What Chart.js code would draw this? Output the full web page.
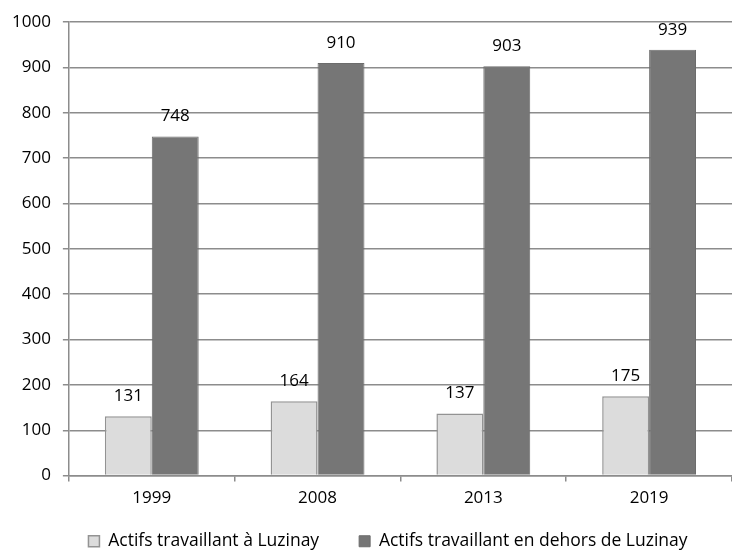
<!DOCTYPE html>
<html>
<head>
<meta charset="utf-8">
<script src="https://cdn.jsdelivr.net/npm/chart.js@4"></script>
<style>
    body { margin: 0; background: #fff; }
</style>
</head>
<body>
<canvas id="chart" width="732" height="551"></canvas>
<script>
// DATA
let years = ["1999", "2008", "2013", "2019"];
let inside = [131, 164, 137, 175];
let outside = [748, 910, 903, 939];
let yTicks = [0, 100, 200, 300, 400, 500, 600, 700, 800, 900, 1000];

let font = "'Open Sans', sans-serif";

// value labels above bars
let barLabels = {
    id: "barLabels",
    afterDatasetsDraw(chart) {
        let ctx = chart.ctx;
        ctx.save();
        ctx.font = "17px " + font;
        ctx.fillStyle = "#000";
        ctx.textAlign = "center";
        ctx.textBaseline = "middle";
        chart.data.datasets.forEach((ds, i) => {
            chart.getDatasetMeta(i).data.forEach((bar, j) => {
                ctx.fillText(ds.data[j], bar.x, bar.y - 20);
            });
        });
        ctx.restore();
    }
};

// legend: keep it short in the layout, then move it where excel had it
let legendTweak = {
    id: "legendTweak",
    beforeLayout(chart) {
        let lg = chart.legend;
        if (lg && !lg._patched) {
            let fit = lg.fit.bind(lg);
            lg.fit = function () { fit(); this.height = 37; };
            lg._patched = true;
        }
    },
    afterLayout(chart) {
        let lg = chart.legend;
        lg.top = 543 - 10.5 - lg.options.labels.padding;
        lg.bottom = chart.height;
        lg.left += 22;
        lg.right += 22;
    }
};

function loadChart() {
    let ctx = document.getElementById("chart");

    new Chart(ctx, {
        type: "bar",
        data: {
            labels: years,
            datasets: [
                {
                    label: "Actifs travaillant à Luzinay",
                    data: inside,
                    backgroundColor: "#dcdcdc",
                    borderColor: "#939393",
                    borderWidth: 1.5
                },
                {
                    label: "Actifs travaillant en dehors de Luzinay",
                    data: outside,
                    backgroundColor: "#767676",
                    borderColor: "#6c6c6c",
                    borderWidth: 1
                }
            ]
        },
        options: {
            responsive: false,
            devicePixelRatio: 1,
            animation: false,
            categoryPercentage: 0.566,
            barPercentage: 1,
            layout: { padding: { top: 20, right: 0, left: 0, bottom: 0 } },
            plugins: {
                tooltip: { enabled: false },
                legend: {
                    position: "bottom",
                    labels: {
                        boxWidth: 11,
                        boxHeight: 11,
                        padding: 40,
                        color: "#000",
                        font: { family: font, size: 17.5 }
                    }
                }
            },
            scales: {
                y: {
                    min: 0,
                    max: 1000,
                    afterBuildTicks: axis => { axis.ticks = yTicks.map(v => ({ value: v })); },
                    grid: { color: "#8c8c8c", lineWidth: 1.5, tickLength: 6 },
                    border: { color: "#8c8c8c", width: 1.5 },
                    ticks: {
                        color: "#000",
                        padding: 12,
                        font: { family: font, size: 17 },
                        callback: v => String(v)
                    }
                },
                x: {
                    grid: { drawOnChartArea: false, color: "#8c8c8c", lineWidth: 1.5, tickLength: 6 },
                    border: { color: "#8c8c8c", width: 1.5 },
                    ticks: { color: "#000", padding: 6, font: { family: font, size: 17 } }
                }
            }
        },
        plugins: [barLabels, legendTweak]
    });
}

window.onload = loadChart;
</script>
</body>
</html>
